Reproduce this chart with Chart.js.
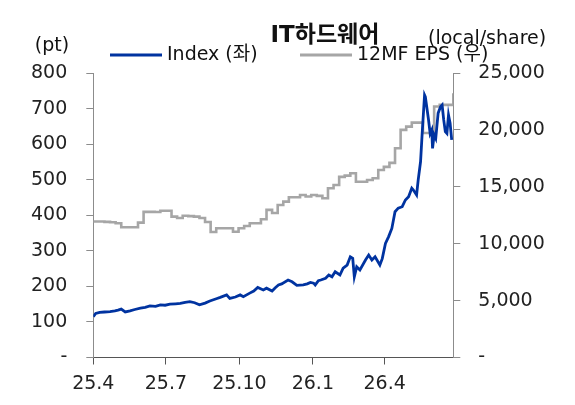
<!DOCTYPE html>
<html>
<head>
<meta charset="utf-8">
<script src="https://cdn.jsdelivr.net/npm/chart.js@4.4.1/dist/chart.umd.min.js"></script>
<style>
  html, body { margin: 0; padding: 0; background: #fff; }
  #wrap { width: 575px; height: 405px; }
</style>
</head>
<body>
<div id="wrap"><canvas id="myChart" width="575" height="405"></canvas></div>
<script>
// eixo x em dias desde 2025-04-01
const tickDays = [0, 91, 183, 275, 365];
const tickLabels = ['25.4', '25.7', '25.10', '26.1', '26.4'];
const lastDay = 451;

// Index (좌) - pt
const idxDays = [0, 3, 8, 14, 21, 27, 31, 35, 40, 46, 52, 59, 65, 71, 78, 84, 90, 96, 103, 109,
  115, 121, 127, 133, 140, 146, 155, 159, 167, 171, 178, 184, 188, 196, 201, 206, 213, 217, 224, 228,
  232, 236, 244, 249, 255, 263, 268, 272, 276, 278, 282, 285, 291, 295, 299, 303, 309, 313, 318, 322,
  325, 327, 330, 334, 341, 345, 349, 353, 359, 362, 366, 370, 374, 378, 382, 387, 391, 395, 399, 401,
  405, 407, 410, 412, 415, 416, 420, 422, 424, 425, 427, 429, 432, 435, 437, 439, 441, 443, 445, 447, 449];
const idxVals = [115, 124, 127, 128, 129, 131, 133, 136, 128, 131, 135, 139, 141, 145, 144, 148, 147, 150, 151, 152,
  155, 157, 154, 148, 153, 159, 166, 169, 176, 166, 170, 176, 171, 181, 187, 197, 190, 195, 187, 196,
  204, 207, 218, 213, 203, 204, 207, 211, 209, 204, 216, 218, 223, 232, 227, 241, 232, 251, 260, 283,
  279, 227, 255, 246, 274, 288, 274, 283, 260, 278, 321, 340, 363, 410, 420, 424, 443, 452, 476, 471,
  457, 499, 551, 630, 738, 733, 668, 630, 640, 588, 626, 616, 687, 705, 710, 668, 635, 630, 682, 659, 612];

// 12MF EPS (우) - semanal
const epsDays = [0, 7, 14, 21, 28, 35, 42, 49, 56, 63, 70, 77, 84, 91, 98, 105, 112, 119, 126, 133,
  140, 147, 154, 161, 168, 175, 182, 189, 196, 203, 210, 217, 224, 231, 238, 245, 252, 259, 266, 273,
  280, 287, 294, 301, 308, 315, 322, 329, 336, 343, 350, 357, 364, 371, 378, 385, 392, 399, 406, 413,
  420, 427, 434, 441, 448, 451];
const epsVals = [11950, 11950, 11920, 11880, 11800, 11450, 11450, 11450, 11850, 12800, 12800, 12780, 12900, 12900, 12380, 12260, 12460, 12420, 12380, 12260,
  11910, 11030, 11360, 11360, 11360, 11050, 11360, 11560, 11800, 11800, 12150, 12970, 12700, 13400, 13700, 14080, 14080, 14280, 14150, 14280,
  14200, 13990, 14870, 15160, 15870, 15980, 16190, 15450, 15450, 15600, 15750, 16480, 16750, 17100, 18390, 20000, 20290, 20640, 20640, 19730,
  19730, 22050, 22200, 22200, 22200, 23220];

const FONT = "'DejaVu Sans', 'Noto Sans CJK KR', sans-serif";
const BLUE = '#0033a0';
const GRAY = '#a6a6a6';

// titulo, unidades e legenda
const header = {
  id: 'header',
  afterDraw(chart) {
    const c = chart.ctx;
    c.save();
    c.fillStyle = '#111';
    c.textBaseline = 'middle';
    c.font = 'bold 23px ' + FONT;
    c.textAlign = 'center';
    c.fillText('IT하드웨어', 325, 36);
    c.font = '19px ' + FONT;
    c.fillText('(pt)', 52, 46);
    c.textAlign = 'left';
    c.fillText('(local/share)', 428, 39);

    c.lineWidth = 3;
    c.strokeStyle = BLUE;
    c.beginPath(); c.moveTo(110, 55); c.lineTo(162, 55); c.stroke();
    c.fillText('Index (좌)', 167, 55);
    c.strokeStyle = GRAY;
    c.beginPath(); c.moveTo(300, 55); c.lineTo(352, 55); c.stroke();
    c.fillText('12MF EPS (우)', 357, 55);
    c.restore();
  }
};

const ctx = document.getElementById('myChart');
const myChart = new Chart(ctx, {
  type: 'line',
  data: {
    datasets: [
      {
        label: 'Index (좌)',
        data: idxDays.map((d, i) => ({ x: d, y: idxVals[i] })),
        borderColor: BLUE,
        backgroundColor: BLUE,
        borderWidth: 2.8,
        pointRadius: 0,
        tension: 0,
        yAxisID: 'yL'
      },
      {
        label: '12MF EPS (우)',
        data: epsDays.map((d, i) => ({ x: d, y: epsVals[i] })),
        borderColor: GRAY,
        backgroundColor: GRAY,
        borderWidth: 2.6,
        pointRadius: 0,
        stepped: true,
        yAxisID: 'yR'
      }
    ]
  },
  options: {
    responsive: false,
    animation: false,
    devicePixelRatio: 1,
    layout: { padding: { top: 73, left: 0, right: 0, bottom: 0 } },
    plugins: {
      legend: { display: false },
      title: { display: false },
      tooltip: { enabled: false }
    },
    scales: {
      x: {
        type: 'linear',
        min: 0,
        max: lastDay,
        afterBuildTicks: s => { s.ticks = tickDays.map(v => ({ value: v })); },
        afterFit: s => { s.height = 47.5; },
        ticks: {
          autoSkip: false,
          maxRotation: 0,
          padding: 8,
          color: '#222',
          font: { family: FONT, size: 19 },
          callback: v => tickLabels[tickDays.indexOf(v)]
        },
        grid: { drawOnChartArea: false, drawTicks: true, tickLength: 7, color: '#555' },
        border: { color: '#555', width: 1 }
      },
      yL: {
        position: 'left',
        min: 0,
        max: 800,
        afterFit: s => { s.width = 93.3; },
        ticks: {
          stepSize: 100,
          padding: 19,
          color: '#222',
          font: { family: FONT, size: 19 },
          callback: v => (v === 0 ? '-' : v)
        },
        grid: { drawOnChartArea: false, drawTicks: true, tickLength: 7, color: '#8c8c8c' },
        border: { color: '#8c8c8c', width: 1 }
      },
      yR: {
        position: 'right',
        min: 0,
        max: 25000,
        afterFit: s => { s.width = 121.7; },
        ticks: {
          stepSize: 5000,
          padding: 18,
          color: '#222',
          font: { family: FONT, size: 19 },
          callback: v => (v === 0 ? '-' : v.toLocaleString('en-US'))
        },
        grid: { drawOnChartArea: false, drawTicks: true, tickLength: 7, color: '#8c8c8c' },
        border: { color: '#8c8c8c', width: 1 }
      }
    }
  },
  plugins: [header]
});
</script>
</body>
</html>
